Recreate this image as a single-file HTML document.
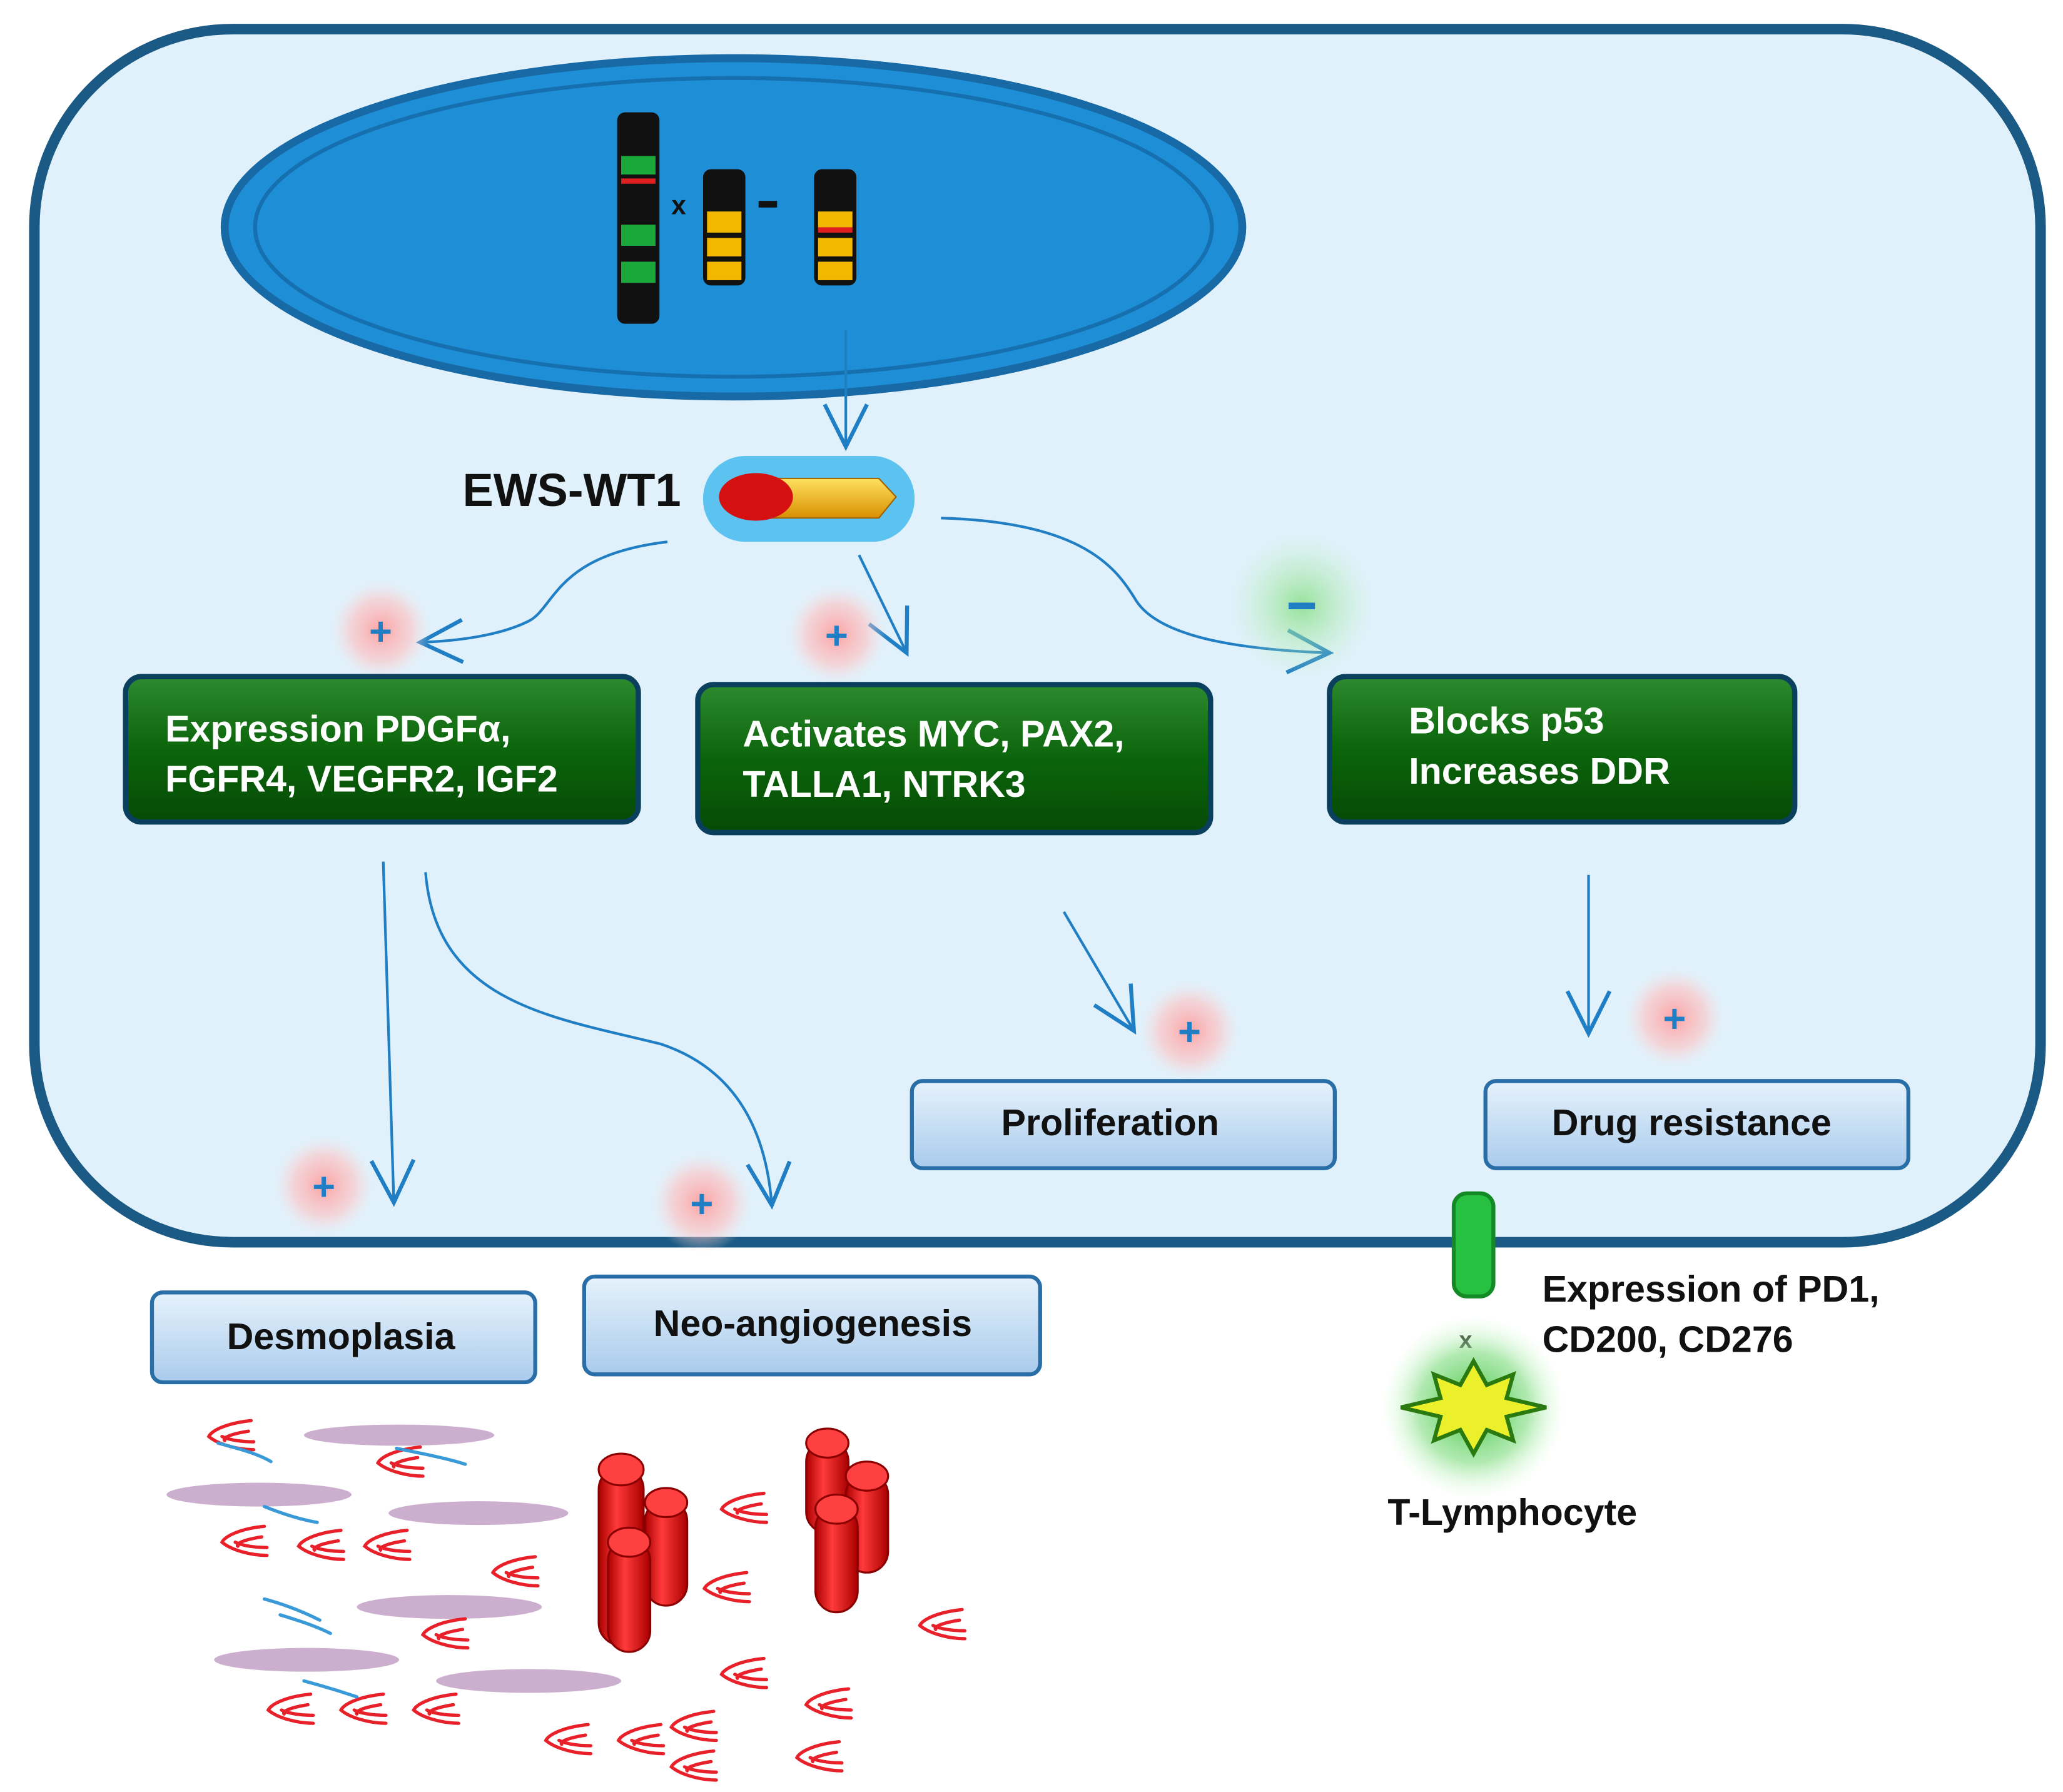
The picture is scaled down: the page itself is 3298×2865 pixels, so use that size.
<!DOCTYPE html>
<html><head><meta charset="utf-8"><style>
html,body{margin:0;padding:0;background:#fff;width:3298px;height:2865px;overflow:hidden}
svg{display:block}
text{font-family:"Liberation Sans",Arial,sans-serif;font-weight:bold}
</style></head><body>
<svg width="3298" height="2865" viewBox="0 0 1561 1356" xmlns="http://www.w3.org/2000/svg">
<defs>
<radialGradient id="pink"><stop offset="0" stop-color="#ff9a9a" stop-opacity=".9"/><stop offset=".6" stop-color="#ffc0c0" stop-opacity=".6"/><stop offset="1" stop-color="#ffe0e0" stop-opacity="0"/></radialGradient>
<radialGradient id="grn"><stop offset="0" stop-color="#8ee08e" stop-opacity=".9"/><stop offset="1" stop-color="#c0f0c0" stop-opacity="0"/></radialGradient>
<radialGradient id="tg"><stop offset="0" stop-color="#3ac43a"/><stop offset=".6" stop-color="#90e090" stop-opacity=".7"/><stop offset="1" stop-color="#e0ffe0" stop-opacity="0"/></radialGradient>
<linearGradient id="gb" x1="0" y1="0" x2="0" y2="1"><stop offset="0" stop-color="#2e8a2e"/><stop offset=".5" stop-color="#0b650b"/><stop offset="1" stop-color="#064a06"/></linearGradient>
<linearGradient id="bb" x1="0" y1="0" x2="0" y2="1"><stop offset="0" stop-color="#e6f2fc"/><stop offset="1" stop-color="#a9cbec"/></linearGradient>
<linearGradient id="cyl" x1="0" y1="0" x2="1" y2="0"><stop offset="0" stop-color="#a00"/><stop offset=".4" stop-color="#ff3a3a"/><stop offset="1" stop-color="#a00"/></linearGradient>
<linearGradient id="gold" x1="0" y1="0" x2="0" y2="1"><stop offset="0" stop-color="#ffe060"/><stop offset="1" stop-color="#d89000"/></linearGradient>
<marker id="ahb" markerWidth="40" markerHeight="40" refX="34" refY="20" orient="auto" markerUnits="userSpaceOnUse"><path d="M2,4 L34,20 L2,36" fill="none" stroke="#1f7ec4" stroke-width="3"/></marker>
<path id="f" d="M30,0 C10,2 0,8 -2,12 C5,18 20,22 32,22 M28,8 C15,10 8,13 10,15 M32,16 C20,16 12,14 8,12"/>
</defs>
<rect x="26" y="22" width="1518" height="918" rx="150" fill="#e0f1fb" stroke="#1b5a84" stroke-width="8"/>
<ellipse cx="555" cy="172" rx="385" ry="128" fill="#1e8fd6" stroke="#186aa6" stroke-width="6"/>
<ellipse cx="555" cy="172" rx="362" ry="113" fill="none" stroke="#1670b0" stroke-width="3"/>
<rect x="467" y="85" width="32" height="160" rx="6" fill="#111"/>
<rect x="470" y="118" width="26" height="14" fill="#1aa83a"/><rect x="470" y="135" width="26" height="4" fill="#e02020"/>
<rect x="470" y="170" width="26" height="16" fill="#1aa83a"/><rect x="470" y="198" width="26" height="16" fill="#1aa83a"/>
<rect x="532" y="128" width="32" height="88" rx="6" fill="#111"/>
<rect x="535" y="160" width="26" height="16" fill="#f2b800"/><rect x="535" y="180" width="26" height="14" fill="#f2b800"/><rect x="535" y="198" width="26" height="14" fill="#f2b800"/>
<rect x="616" y="128" width="32" height="88" rx="6" fill="#111"/>
<rect x="619" y="160" width="26" height="12" fill="#f2b800"/><rect x="619" y="172" width="26" height="4" fill="#e02020"/><rect x="619" y="180" width="26" height="14" fill="#f2b800"/><rect x="619" y="198" width="26" height="14" fill="#f2b800"/>
<text x="508" y="162" font-size="20" fill="#111">x</text>
<rect x="574" y="152" width="14" height="5" fill="#111"/>
<path d="M640,250 L640,338" fill="none" stroke="#1f7ec4" stroke-width="2" marker-end="url(#ahb)"/>
<text x="350" y="383" font-size="35" fill="#111">EWS-WT1</text>
<rect x="532" y="345" width="160" height="65" rx="32" fill="#3bb7ee" opacity=".8"/>
<path d="M570,362 L665,362 L678,376 L665,392 L570,392 Z" fill="url(#gold)" stroke="#a06000" stroke-width="1"/>
<ellipse cx="572" cy="376" rx="28" ry="18" fill="#d51010"/>
<path d="M505,410 C420,420 420,460 400,470 C380,480 350,485 318,486" fill="none" stroke="#1f7ec4" stroke-width="2" marker-end="url(#ahb)"/>
<path d="M650,420 L686,494" fill="none" stroke="#1f7ec4" stroke-width="2" marker-end="url(#ahb)"/>
<path d="M712,392 C820,395 845,430 860,455 C880,485 950,492 1006,494" fill="none" stroke="#1f7ec4" stroke-width="2" marker-end="url(#ahb)"/>
<path d="M290,652 L298,910" fill="none" stroke="#1f7ec4" stroke-width="2" marker-end="url(#ahb)"/>
<path d="M322,660 C330,760 420,770 500,790 C560,810 580,860 584,912" fill="none" stroke="#1f7ec4" stroke-width="2" marker-end="url(#ahb)"/>
<path d="M805,690 L858,780" fill="none" stroke="#1f7ec4" stroke-width="2" marker-end="url(#ahb)"/>
<path d="M1202,662 L1202,782" fill="none" stroke="#1f7ec4" stroke-width="2" marker-end="url(#ahb)"/>
<g font-size="30" fill="#1f7ec4" text-anchor="middle">
<circle cx="288" cy="477" r="38" fill="url(#pink)"/><text x="288" y="488">+</text>
<circle cx="633" cy="480" r="38" fill="url(#pink)"/><text x="633" y="491">+</text>
<circle cx="900" cy="780" r="38" fill="url(#pink)"/><text x="900" y="791">+</text>
<circle cx="1267" cy="770" r="38" fill="url(#pink)"/><text x="1267" y="781">+</text>
<circle cx="245" cy="897" r="38" fill="url(#pink)"/><text x="245" y="908">+</text>
<circle cx="531" cy="910" r="38" fill="url(#pink)"/><text x="531" y="921">+</text>
<circle cx="985" cy="458" r="55" fill="url(#grn)"/><rect x="975" y="456" width="20" height="5" fill="#1f7ec4"/>
</g>
<g fill="#fff" font-size="28">
<rect x="95" y="512" width="388" height="110" rx="12" fill="url(#gb)" stroke="#0a3f5e" stroke-width="4"/>
<text x="125" y="561">Expression PDGFα,</text><text x="125" y="599">FGFR4, VEGFR2, IGF2</text>
<rect x="528" y="518" width="388" height="112" rx="12" fill="url(#gb)" stroke="#0a3f5e" stroke-width="4"/>
<text x="562" y="565">Activates MYC, PAX2,</text><text x="562" y="603">TALLA1, NTRK3</text>
<rect x="1006" y="512" width="352" height="110" rx="12" fill="url(#gb)" stroke="#0a3f5e" stroke-width="4"/>
<text x="1066" y="555">Blocks p53</text><text x="1066" y="593">Increases DDR</text>
</g>
<g font-size="28" fill="#111" text-anchor="middle">
<rect x="690" y="818" width="320" height="66" rx="8" fill="url(#bb)" stroke="#2a6ea8" stroke-width="3"/><text x="840" y="859">Proliferation</text>
<rect x="1124" y="818" width="320" height="66" rx="8" fill="url(#bb)" stroke="#2a6ea8" stroke-width="3"/><text x="1280" y="859">Drug resistance</text>
<rect x="115" y="978" width="290" height="68" rx="8" fill="url(#bb)" stroke="#2a6ea8" stroke-width="3"/><text x="258" y="1021">Desmoplasia</text>
<rect x="442" y="966" width="345" height="74" rx="8" fill="url(#bb)" stroke="#2a6ea8" stroke-width="3"/><text x="615" y="1011">Neo-angiogenesis</text>
</g>
<rect x="1100" y="903" width="30" height="78" rx="10" fill="#28c040" stroke="#138a25" stroke-width="3"/>
<text x="1104" y="1020" font-size="18" fill="#111">x</text>
<circle cx="1115" cy="1065" r="70" fill="url(#tg)"/>
<polygon points="1115,1030 1125,1048 1145,1040 1140,1058 1170,1065 1140,1072 1145,1090 1125,1082 1115,1100 1105,1082 1085,1090 1090,1072 1060,1065 1090,1058 1085,1040 1105,1048" fill="#ecf02a" stroke="#2a7a10" stroke-width="3"/>
<g font-size="28" fill="#111">
<text x="1167" y="985">Expression of PD1,</text><text x="1167" y="1023">CD200, CD276</text>
<text x="1050" y="1154">T-Lymphocyte</text>
</g>
<g fill="#c7a6c9" opacity=".9">
<ellipse cx="302" cy="1086" rx="72" ry="8"/><ellipse cx="196" cy="1131" rx="70" ry="9"/><ellipse cx="362" cy="1145" rx="68" ry="9"/>
<ellipse cx="340" cy="1216" rx="70" ry="9"/><ellipse cx="232" cy="1256" rx="70" ry="9"/><ellipse cx="400" cy="1272" rx="70" ry="9"/>
</g>
<g fill="none" stroke="#e8202a" stroke-width="2.5" stroke-linecap="round">
<use href="#f" x="160" y="1075"/><use href="#f" x="288" y="1095"/><use href="#f" x="170" y="1155"/><use href="#f" x="228" y="1158"/>
<use href="#f" x="278" y="1158"/><use href="#f" x="375" y="1178"/><use href="#f" x="322" y="1225"/><use href="#f" x="205" y="1282"/>
<use href="#f" x="260" y="1282"/><use href="#f" x="315" y="1282"/><use href="#f" x="415" y="1305"/><use href="#f" x="470" y="1305"/>
<use href="#f" x="510" y="1295"/><use href="#f" x="605" y="1318"/><use href="#f" x="548" y="1130"/><use href="#f" x="535" y="1190"/>
<use href="#f" x="548" y="1255"/><use href="#f" x="698" y="1218"/><use href="#f" x="612" y="1278"/><use href="#f" x="510" y="1325"/>
</g>
<g fill="none" stroke="#3a9ad8" stroke-width="2.5" stroke-linecap="round">
<path d="M165,1092 C180,1096 195,1100 205,1106"/><path d="M300,1096 C320,1100 340,1104 352,1108"/><path d="M200,1140 C215,1146 228,1150 240,1152"/>
<path d="M200,1210 C215,1214 230,1220 242,1226"/><path d="M230,1272 C245,1276 258,1280 270,1284"/><path d="M212,1222 C225,1226 238,1230 250,1236"/>
</g>
<g fill="url(#cyl)" stroke="#8a0000" stroke-width="1.5">
<rect x="453" y="1110" width="34" height="135" rx="17"/><ellipse cx="470" cy="1112" rx="17" ry="12" fill="#ff4040"/>
<rect x="488" y="1135" width="32" height="80" rx="16"/><ellipse cx="504" cy="1137" rx="16" ry="11" fill="#ff4040"/>
<rect x="460" y="1165" width="32" height="85" rx="16"/><ellipse cx="476" cy="1167" rx="16" ry="11" fill="#ff4040"/>
<rect x="610" y="1090" width="32" height="70" rx="16"/><ellipse cx="626" cy="1092" rx="16" ry="11" fill="#ff4040"/>
<rect x="640" y="1115" width="32" height="75" rx="16"/><ellipse cx="656" cy="1117" rx="16" ry="11" fill="#ff4040"/>
<rect x="617" y="1140" width="32" height="80" rx="16"/><ellipse cx="633" cy="1142" rx="16" ry="11" fill="#ff4040"/>
</g>
</svg>
</body></html>
